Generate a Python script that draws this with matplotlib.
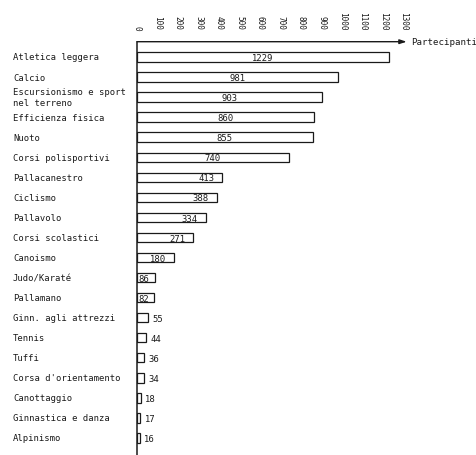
import matplotlib
matplotlib.use("Agg")
import matplotlib.pyplot as plt
from matplotlib.transforms import blended_transform_factory

categories = [
    "Atletica leggera", "Calcio", "Escursionismo e sport\nnel terreno",
    "Efficienza fisica", "Nuoto", "Corsi polisportivi", "Pallacanestro",
    "Ciclismo", "Pallavolo", "Corsi scolastici", "Canoismo", "Judo/Karaté",
    "Pallamano", "Ginn. agli attrezzi", "Tennis", "Tuffi",
    "Corsa d'orientamento", "Canottaggio", "Ginnastica e danza", "Alpinismo",
]
values = [1229, 981, 903, 860, 855, 740, 413, 388, 334, 271, 180, 86, 82,
          55, 44, 36, 34, 18, 17, 16]
tick_values = [0, 100, 200, 300, 400, 500, 600, 700, 800, 900, 1000, 1100, 1200, 1300]
axis_label = "Partecipanti"

FONT = "DejaVu Sans Mono"
INK = "#1a1a1a"

W, H = 477, 456
fig = plt.figure(figsize=(W / 100, H / 100), dpi=100)

px_per_unit = 0.2054
x0_px = 137
xmax = 1400
top_px = 42.7
ax = fig.add_axes([x0_px / W, 0, xmax * px_per_unit / W, 1 - top_px / H])

row0_px, row_step = 58.0, 20.05
y_top = (top_px - row0_px) / row_step
y_bot = (H - row0_px) / row_step
ax.set_xlim(0, xmax)
ax.set_ylim(y_bot, y_top)

ypos = list(range(len(values)))
ax.barh(ypos, values, height=0.47, left=0, color="white", edgecolor=INK,
        linewidth=0.9)

for y, v in zip(ypos, values):
    if v >= 700:
        ax.text(v / 2, y + 0.03, str(v), ha="center", va="center",
                fontsize=6.4, family=FONT, color=INK)
    elif v >= 100:
        ax.annotate(str(v), xy=(v, y + 0.03), xytext=(-5.5, 0),
                    textcoords="offset points", ha="right", va="center",
                    fontsize=6.4, family=FONT, color=INK)
    elif v >= 60:
        ax.annotate(str(v), xy=(0, y + 0.03), xytext=(1, 0),
                    textcoords="offset points", ha="left", va="center",
                    fontsize=6.4, family=FONT, color=INK)
    else:
        ax.annotate(str(v), xy=(v, y + 0.03), xytext=(3, 0),
                    textcoords="offset points", ha="left", va="center",
                    fontsize=6.4, family=FONT, color=INK)

# category labels
lab_tr = blended_transform_factory(fig.transFigure, ax.transData)
for y, c in zip(ypos, categories):
    ax.text(13 / W, y, c, transform=lab_tr, ha="left", va="center",
            fontsize=6.4, family=FONT, color=INK, linespacing=1.2)

# axes styling
for s in ["top", "right", "bottom"]:
    ax.spines[s].set_visible(False)
ax.spines["left"].set_color(INK)
ax.spines["left"].set_linewidth(1.1)
ax.set_yticks([])
ax.xaxis.tick_top()
ax.set_xticks(tick_values)
ax.set_xticklabels([str(t) for t in tick_values], rotation=-90, fontsize=5.6,
                   family=FONT, color=INK)
ax.tick_params(axis="x", length=0, pad=9.0)

# top axis line with arrow
arrow_end = 1313
ax.annotate("", xy=(arrow_end, y_top), xytext=(0, y_top),
            arrowprops=dict(arrowstyle="-|>,head_length=0.4,head_width=0.13",
                            color=INK, lw=1.0, shrinkA=0, shrinkB=0),
            annotation_clip=False)
ax.text(arrow_end + 20, y_top, axis_label, ha="left", va="center",
        fontsize=6.6, family=FONT, color=INK, clip_on=False)

fig.savefig("out.png", dpi=100, facecolor="white")
